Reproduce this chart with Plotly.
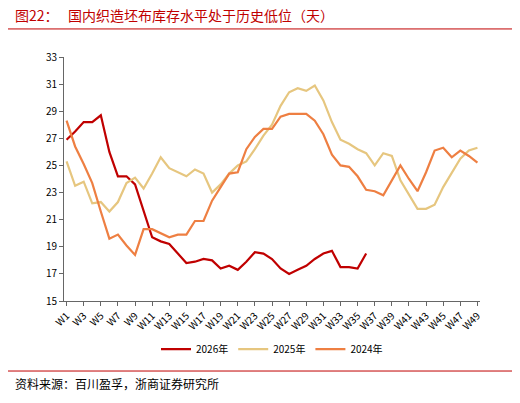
import plotly.graph_objects as go

weeks = ["W%d" % i for i in range(1, 50)]

y2026 = [26.9, 27.5, 28.2, 28.2, 28.7, 26.0, 24.2, 24.2, 23.6, 21.6, 19.7, 19.4, 19.2, 18.5,
         17.8, 17.9, 18.1, 18.0, 17.4, 17.6, 17.3, 17.9, 18.6, 18.5, 18.1, 17.4, 17.0, 17.3,
         17.6, 18.1, 18.5, 18.7, 17.5, 17.5, 17.4, 18.5]
y2025 = [25.3, 23.5, 23.8, 22.2, 22.3, 21.6, 22.3, 23.7, 24.1, 23.3, 24.4, 25.6, 24.8, 24.5,
         24.2, 24.7, 24.4, 23.0, 23.6, 24.4, 25.0, 25.3, 26.2, 27.2, 28.0, 29.4, 30.4, 30.7,
         30.5, 30.9, 29.8, 28.2, 26.9, 26.6, 26.2, 25.9, 25.0, 25.9, 25.7, 23.9, 22.8, 21.8,
         21.8, 22.1, 23.4, 24.5, 25.5, 26.1, 26.3]
y2024 = [28.3, 26.4, 25.1, 23.7, 21.6, 19.6, 19.9, 19.1, 18.4, 20.3, 20.3, 20.0, 19.7, 19.9,
         19.9, 20.9, 20.9, 22.4, 23.4, 24.4, 24.5, 26.2, 27.1, 27.7, 27.7, 28.6, 28.8, 28.8,
         28.8, 28.3, 27.3, 25.8, 25.0, 24.9, 24.2, 23.2, 23.1, 22.8, 23.9, 25.0, 24.0, 23.1,
         24.5, 26.1, 26.3, 25.6, 26.1, 25.7, 25.2]

fig = go.Figure()
fig.add_trace(go.Scatter(x=weeks[:len(y2026)], y=y2026, name="2026年", mode="lines",
                         line=dict(color="#C00000", width=2.2)))
fig.add_trace(go.Scatter(x=weeks, y=y2025, name="2025年", mode="lines",
                         line=dict(color="#E6C67F", width=2.2)))
fig.add_trace(go.Scatter(x=weeks, y=y2024, name="2024年", mode="lines",
                         line=dict(color="#EE7F42", width=2.2)))

fig.update_layout(
    width=520, height=403, template="plotly_white",
    plot_bgcolor="white", paper_bgcolor="white",
    font=dict(family="Noto Sans CJK SC", size=10, color="black"),
    margin=dict(l=56, r=48, t=49, b=110),
    legend=dict(orientation="h", x=0.5, xanchor="center", y=-0.197, yanchor="middle",
                font=dict(size=10)),
    showlegend=True,
)
fig.update_xaxes(type="category", tickvals=weeks[::2], tickangle=-45, showgrid=False,
                 showline=True, linecolor="#666", ticks="outside", ticklen=4,
                 tickcolor="#666", range=[-0.3, 48.3], tickfont=dict(size=10))
fig.update_yaxes(range=[15, 33], tick0=15, dtick=2, showgrid=False, showline=True,
                 linecolor="#666", ticks="outside", ticklen=4, tickcolor="#666",
                 tickfont=dict(size=10))

fig.add_annotation(text="图22：   国内织造坯布库存水平处于历史低位（天）", xref="paper", yref="paper",
                   x=-0.123, y=1.172, xanchor="left", yanchor="middle", showarrow=False,
                   font=dict(size=14, color="#C00000"))
fig.add_shape(type="line", xref="paper", yref="paper", x0=-0.135, x1=1.115, y0=1.115, y1=1.115,
              line=dict(color="#C00000", width=1))
fig.add_annotation(text="资料来源：百川盈孚，浙商证券研究所", xref="paper", yref="paper",
                   x=-0.123, y=-0.34, xanchor="left", yanchor="middle", showarrow=False,
                   font=dict(size=12))
fig.add_shape(type="line", xref="paper", yref="paper", x0=-0.135, x1=1.115, y0=-0.287, y1=-0.287,
              line=dict(color="#C00000", width=1))

fig.write_html("out.html")
